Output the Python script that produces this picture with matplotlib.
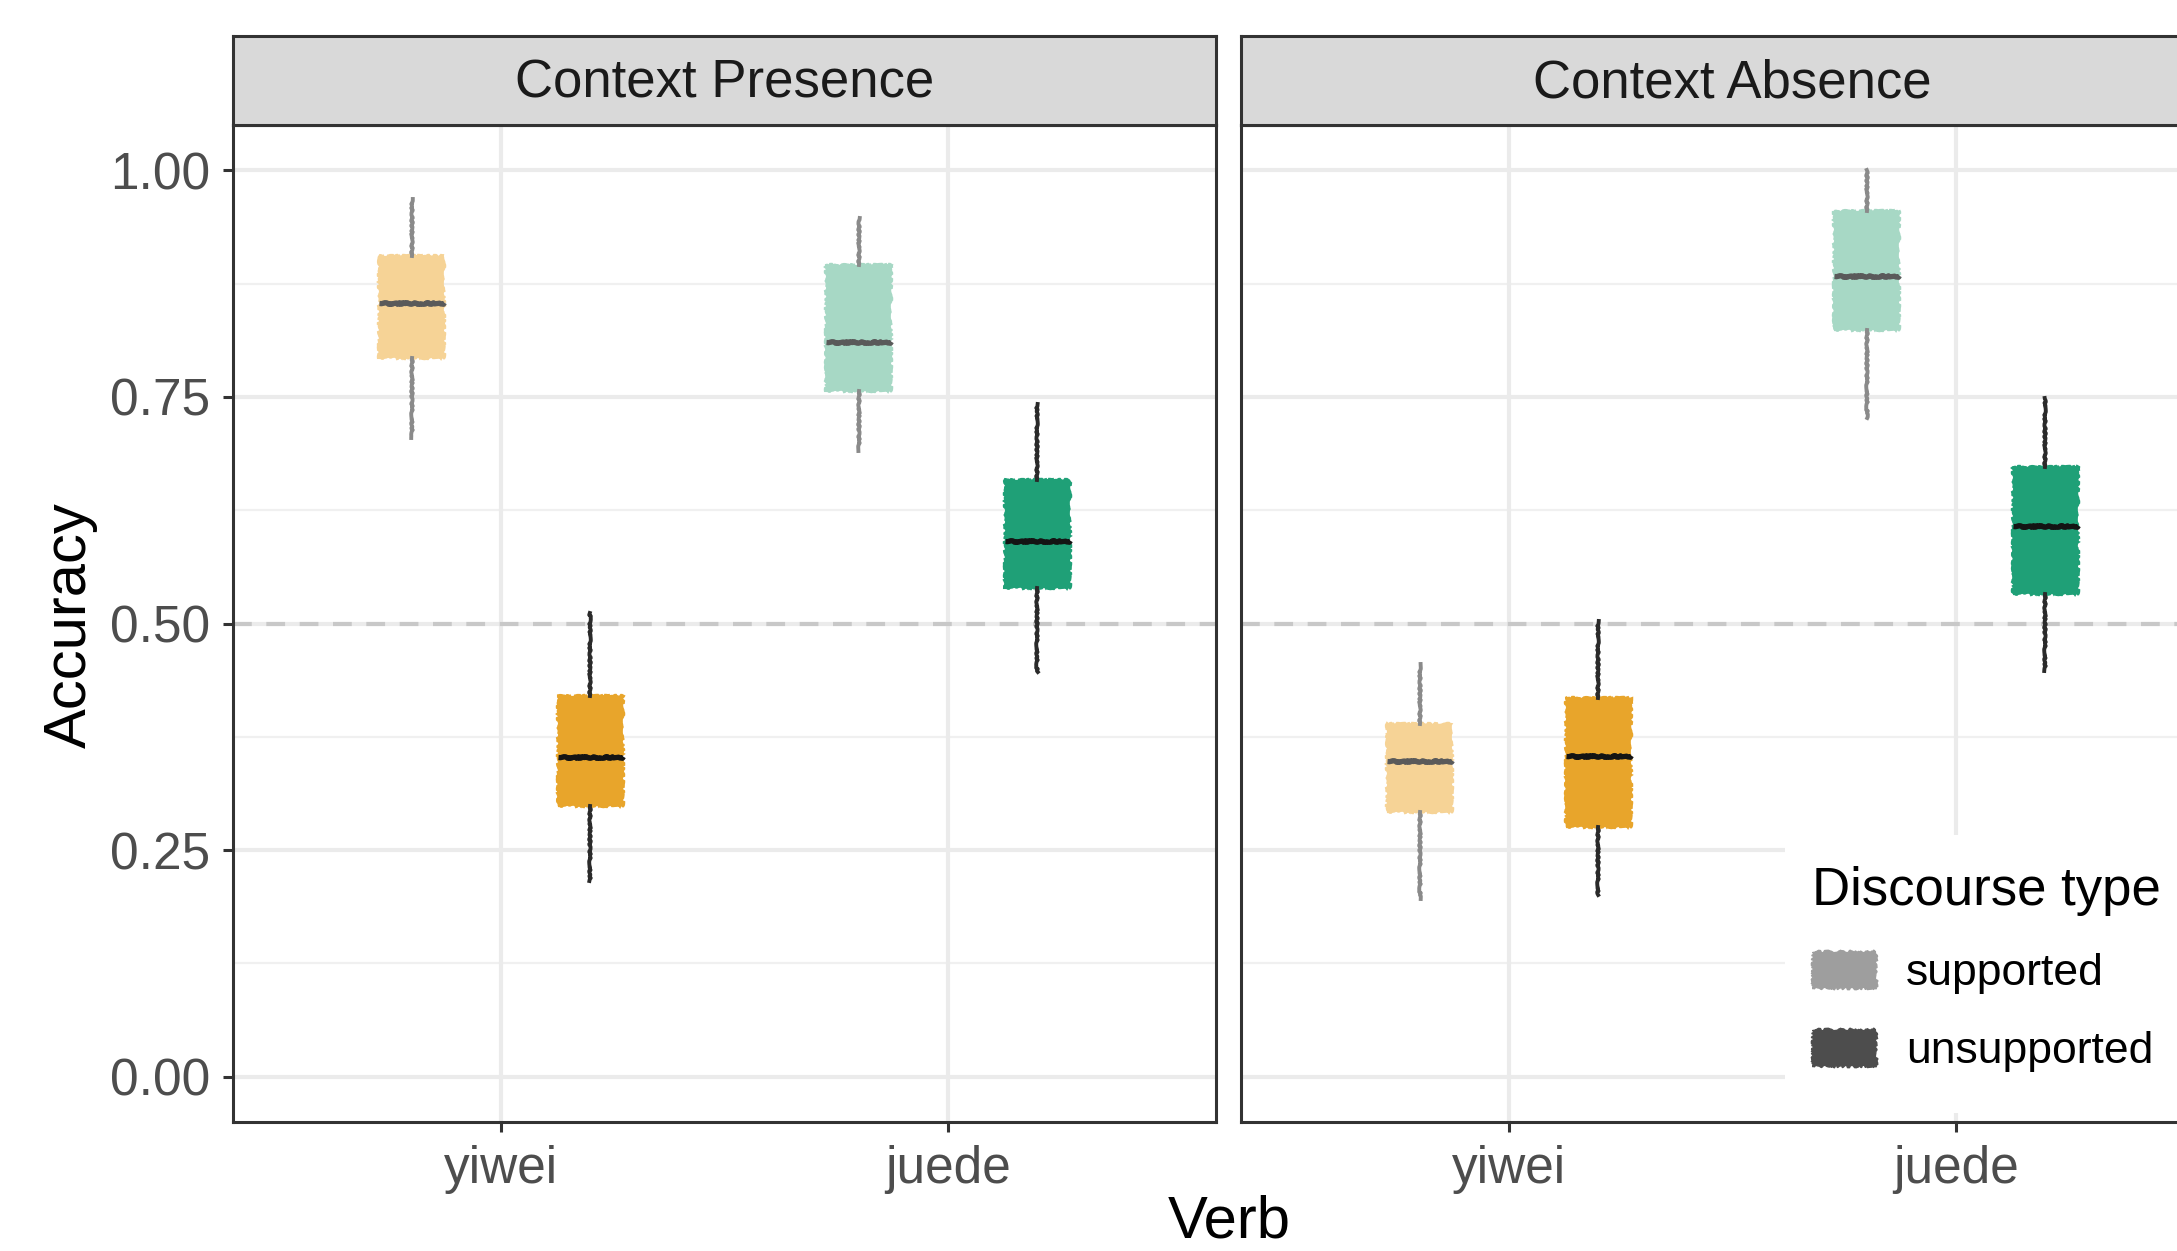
import matplotlib
matplotlib.use('Agg')
import matplotlib.pyplot as plt
from matplotlib.patches import Patch, Rectangle

plt.rcParams['font.family'] = ['Liberation Sans', 'DejaVu Sans']

# ---------------- data ----------------
verbs = ['yiwei', 'juede']
discourse = ['supported', 'unsupported']
contexts = ['Context Presence', 'Context Absence']
y_ticks = [0.00, 0.25, 0.50, 0.75, 1.00]
y_tick_labels = ['0.00', '0.25', '0.50', '0.75', '1.00']
y_minor = [0.125, 0.375, 0.625, 0.875]
chance_level = 0.5

# order: yiwei-supported, yiwei-unsupported, juede-supported, juede-unsupported
presence_whislo = [0.705, 0.216, 0.690, 0.447]
presence_q1 = [0.793, 0.299, 0.756, 0.539]
presence_med = [0.854, 0.353, 0.811, 0.591]
presence_q3 = [0.905, 0.420, 0.895, 0.658]
presence_whishi = [0.968, 0.512, 0.947, 0.742]

absence_whislo = [0.196, 0.200, 0.727, 0.448]
absence_q1 = [0.292, 0.275, 0.824, 0.533]
absence_med = [0.348, 0.354, 0.883, 0.608]
absence_q3 = [0.389, 0.418, 0.955, 0.673]
absence_whishi = [0.455, 0.503, 1.000, 0.749]

panel_data = {
    'Context Presence': (presence_whislo, presence_q1, presence_med, presence_q3, presence_whishi),
    'Context Absence': (absence_whislo, absence_q1, absence_med, absence_q3, absence_whishi),
}

# ---------------- styles ----------------
fill_colors = {
    ('yiwei', 'supported'): '#F6D396',
    ('yiwei', 'unsupported'): '#E8A52B',
    ('juede', 'supported'): '#A7D8C5',
    ('juede', 'unsupported'): '#1FA077',
}
whisker_colors = {'supported': '#8A8A8A', 'unsupported': '#2A2A2A'}
median_colors = {'supported': '#5A5A5A', 'unsupported': '#141414'}
legend_colors = {'supported': '#9E9E9E', 'unsupported': '#4D4D4D'}

W, H = 2177, 1251
fig = plt.figure(figsize=(W / 100, H / 100), dpi=100)

panel_left = [233, 1241]
panel_w = 983
panel_top, panel_bottom = 125, 1122
strip_top = 36
dark = '#333333'

axes = []
for ci, ctx in enumerate(contexts):
    x0 = panel_left[ci]
    ax = fig.add_axes([x0 / W, 1 - panel_bottom / H, panel_w / W, (panel_bottom - panel_top) / H])
    axes.append(ax)
    st = fig.add_axes([x0 / W, 1 - panel_top / H, panel_w / W, (panel_top - strip_top) / H])
    st.set_facecolor('#D9D9D9')
    st.set_xticks([]); st.set_yticks([])
    for sp in st.spines.values():
        sp.set_color(dark); sp.set_linewidth(2.2)
    st.text(0.5, 0.47, ctx, ha='center', va='center', fontsize=38, color='#1A1A1A',
            transform=st.transAxes)

    whislo, q1, med, q3, whishi = panel_data[ctx]
    stats, positions, keys = [], [], []
    for vi, verb in enumerate(verbs):
        for di, d in enumerate(discourse):
            k = vi * 2 + di
            stats.append(dict(med=med[k], q1=q1[k], q3=q3[k], whislo=whislo[k],
                              whishi=whishi[k], label=''))
            positions.append(vi + 1 + (di - 0.5) * 0.4)
            keys.append((verb, d))

    ax.set_xlim(0.4, 2.6)
    ax.set_ylim(-0.05, 1.05)

    # grid
    for yv in y_minor:
        ax.axhline(yv, color='#F0F0F0', lw=1.6, zorder=0)
    for yv in y_ticks:
        ax.axhline(yv, color='#EBEBEB', lw=3.0, zorder=0.1)
    for xv in range(1, len(verbs) + 1):
        ax.axvline(xv, color='#EBEBEB', lw=3.0, zorder=0.1)
    ax.axhline(chance_level, color='#C8C8C8', lw=3.0, ls=(0, (4.5, 3.5)), zorder=0.5)

    bp = ax.bxp(stats, positions=positions, widths=0.145, patch_artist=True,
                showfliers=False, showcaps=False, manage_ticks=False, zorder=2)
    for k, (verb, d) in enumerate(keys):
        box = bp['boxes'][k]
        box.set_facecolor(fill_colors[(verb, d)])
        box.set_edgecolor(fill_colors[(verb, d)])
        box.set_linewidth(1.5)
        box.set_sketch_params(scale=1.2, length=14, randomness=12)
        for w in bp['whiskers'][2 * k: 2 * k + 2]:
            w.set_color(whisker_colors[d])
            w.set_linewidth(2.8)
            w.set_sketch_params(scale=0.8, length=6, randomness=8)
        m = bp['medians'][k]
        m.set_color(median_colors[d])
        m.set_linewidth(3.8)
        m.set_sketch_params(scale=0.8, length=8, randomness=8)

    ax.set_xticks(range(1, len(verbs) + 1))
    ax.set_xticklabels(verbs)
    ax.set_yticks(y_ticks)
    ax.tick_params(axis='both', length=7.5, width=2.2, color=dark, labelcolor='#4D4D4D',
                   labelsize=37, pad=9)
    if ci == 0:
        ax.set_yticklabels(y_tick_labels)
        ax.tick_params(axis='y', pad=9)
    else:
        ax.set_yticklabels([])
        ax.tick_params(axis='y', length=0)
    for sp in ax.spines.values():
        sp.set_color(dark); sp.set_linewidth(2.2)
        sp.set_zorder(3)

fig.text(86 / W, 1 - 625 / H, 'Accuracy', rotation=90, rotation_mode='anchor',
         ha='center', va='baseline', fontsize=43, color='black')
fig.text(1229 / W, 1 / H, 'Verb', ha='center', va='bottom', fontsize=43, color='black')

# legend background (white box over the right panel)
lx0, ly0, ly1 = 1785, 835, 1113
fig.patches.append(Rectangle((lx0 / W, 1 - ly1 / H), (W - lx0) / W, (ly1 - ly0) / H,
                             transform=fig.transFigure, facecolor='white',
                             edgecolor='none', zorder=4))

handles = [Patch(facecolor=legend_colors[d], edgecolor=legend_colors[d]) for d in discourse]
for h in handles:
    h.set_sketch_params(scale=1.2, length=8, randomness=12)
leg = fig.legend(handles, discourse, title='Discourse type', loc='upper left',
                 bbox_to_anchor=(lx0 / W, 1 - 839 / H), frameon=False, fontsize=32,
                 title_fontsize=38, alignment='left', handlelength=1.44, handleheight=0.88,
                 labelspacing=0.8, handletextpad=0.68, borderpad=0.6, borderaxespad=0)
leg.set_zorder(5)

fig.savefig('out.png', dpi=100)
